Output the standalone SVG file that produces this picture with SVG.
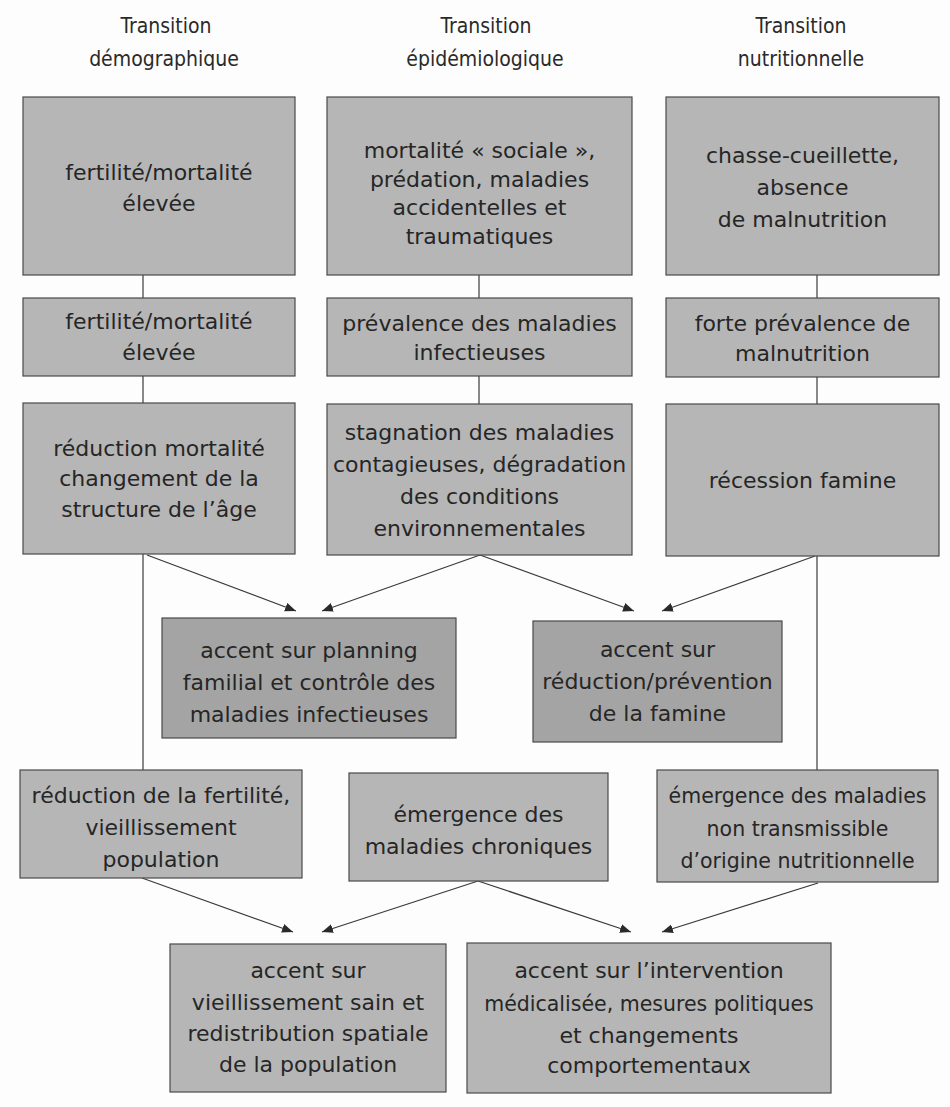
<svg xmlns="http://www.w3.org/2000/svg" width="950" height="1107" viewBox="0 0 950 1107">
<style>
.bg{fill:#fdfdfd}
.box{fill:#b6b6b6;stroke:#4a4a4a;stroke-width:1.2}
.dark{fill:#a4a4a4;stroke:#4a4a4a;stroke-width:1.2}
.t{font-family:"DejaVu Sans","Liberation Sans",sans-serif;font-size:22px;fill:#262626;text-anchor:middle}
.s{font-size:20.5px}
.h{font-family:"DejaVu Sans Condensed","DejaVu Sans",sans-serif;font-stretch:condensed;font-size:21px;fill:#2a2a2a;text-anchor:middle}
.ln{stroke:#3a3a3a;stroke-width:1.2;fill:none}
.ar{stroke:#3a3a3a;stroke-width:1.2;fill:none;marker-end:url(#ah)}
</style>
<defs>
<marker id="ah" markerWidth="12" markerHeight="10" refX="11" refY="4.5" orient="auto" markerUnits="userSpaceOnUse">
<path d="M0,0 L11,4.5 L0,9 z" fill="#2a2a2a"/>
</marker>
</defs>
<rect class="bg" x="0" y="0" width="950" height="1107"/>

<g id="headers">
<text class="h" x="166" y="33">Transition</text>
<text class="h" x="164" y="66">démographique</text>
<text class="h" x="486" y="33">Transition</text>
<text class="h" x="485" y="66">épidémiologique</text>
<text class="h" x="801" y="33">Transition</text>
<text class="h" x="801" y="66">nutritionnelle</text>
</g>

<g id="connectors">
<line class="ln" x1="143" y1="275" x2="143" y2="298"/>
<line class="ln" x1="143" y1="376" x2="143" y2="403"/>
<line class="ln" x1="143" y1="554" x2="143" y2="770"/>
<line class="ln" x1="479" y1="275" x2="479" y2="298"/>
<line class="ln" x1="479" y1="376" x2="479" y2="404"/>
<line class="ln" x1="817" y1="275" x2="817" y2="298"/>
<line class="ln" x1="817" y1="377" x2="817" y2="404"/>
<line class="ln" x1="817" y1="556" x2="817" y2="770"/>
<line class="ar" x1="147" y1="555" x2="296" y2="611"/>
<line class="ar" x1="480" y1="555" x2="322" y2="611"/>
<line class="ar" x1="480" y1="555" x2="634" y2="611"/>
<line class="ar" x1="815" y1="556" x2="662" y2="611"/>
<line class="ar" x1="142" y1="878" x2="293" y2="932"/>
<line class="ar" x1="478" y1="881" x2="322" y2="932"/>
<line class="ar" x1="478" y1="881" x2="631" y2="932"/>
<line class="ar" x1="818" y1="883" x2="662" y2="932"/>
</g>

<g id="a1">
<rect class="box" x="23" y="97" width="272" height="178"/>
<text class="t" x="159" y="180">fertilité/mortalité</text>
<text class="t" x="159" y="211">élevée</text>
</g>
<g id="a2">
<rect class="box" x="23" y="298" width="272" height="78"/>
<text class="t" x="159" y="329">fertilité/mortalité</text>
<text class="t" x="159" y="360">élevée</text>
</g>
<g id="a3">
<rect class="box" x="23" y="403" width="272" height="151"/>
<text class="t" x="159" y="456">réduction mortalité</text>
<text class="t" x="159" y="486">changement de la</text>
<text class="t" x="159" y="517">structure de l’âge</text>
</g>

<g id="b1">
<rect class="box" x="327" y="97" width="305" height="178"/>
<text class="t" x="479.5" y="158">mortalité « sociale »,</text>
<text class="t" x="479.5" y="187">prédation, maladies</text>
<text class="t" x="479.5" y="215">accidentelles et</text>
<text class="t" x="479.5" y="244">traumatiques</text>
</g>
<g id="b2">
<rect class="box" x="327" y="298" width="305" height="78"/>
<text class="t" x="479.5" y="331">prévalence des maladies</text>
<text class="t" x="479.5" y="360">infectieuses</text>
</g>
<g id="b3">
<rect class="box" x="327" y="404" width="305" height="151"/>
<text class="t" x="479.5" y="440">stagnation des maladies</text>
<text class="t" x="479.5" y="472">contagieuses, dégradation</text>
<text class="t" x="479.5" y="504">des conditions</text>
<text class="t" x="479.5" y="536">environnementales</text>
</g>

<g id="c1">
<rect class="box" x="666" y="97" width="273" height="178"/>
<text class="t" x="802.5" y="163">chasse-cueillette,</text>
<text class="t" x="802.5" y="195">absence</text>
<text class="t" x="802.5" y="227">de malnutrition</text>
</g>
<g id="c2">
<rect class="box" x="666" y="298" width="273" height="79"/>
<text class="t" x="802.5" y="331">forte prévalence de</text>
<text class="t" x="802.5" y="361">malnutrition</text>
</g>
<g id="c3">
<rect class="box" x="666" y="404" width="273" height="152"/>
<text class="t" x="802.5" y="488">récession famine</text>
</g>

<g id="m1">
<rect class="dark" x="162" y="618" width="294" height="120"/>
<text class="t" x="309" y="658">accent sur planning</text>
<text class="t" x="309" y="690">familial et contrôle des</text>
<text class="t" x="309" y="722">maladies infectieuses</text>
</g>
<g id="m2">
<rect class="dark" x="533" y="621" width="249" height="121"/>
<text class="t" x="657.5" y="657">accent sur</text>
<text class="t" x="657.5" y="689">réduction/prévention</text>
<text class="t" x="657.5" y="721">de la famine</text>
</g>

<g id="a4">
<rect class="box" x="20" y="770" width="282" height="108"/>
<text class="t" x="161" y="803">réduction de la fertilité,</text>
<text class="t" x="161" y="835">vieillissement</text>
<text class="t" x="161" y="867">population</text>
</g>
<g id="b4">
<rect class="box" x="349" y="773" width="259" height="108"/>
<text class="t" x="478.5" y="822">émergence des</text>
<text class="t" x="478.5" y="854">maladies chroniques</text>
</g>
<g id="c4">
<rect class="box" x="657" y="770" width="281" height="112"/>
<text class="t s" x="797.5" y="803">émergence des maladies</text>
<text class="t s" x="797.5" y="836">non transmissible</text>
<text class="t s" x="797.5" y="868">d’origine nutritionnelle</text>
</g>

<g id="d1">
<rect class="box" x="170" y="944" width="276" height="148"/>
<text class="t" x="308" y="978">accent sur</text>
<text class="t" x="308" y="1010">vieillissement sain et</text>
<text class="t" x="308" y="1041">redistribution spatiale</text>
<text class="t" x="308" y="1072">de la population</text>
</g>
<g id="d2">
<rect class="box" x="467" y="943" width="364" height="150"/>
<text class="t" x="649" y="978">accent sur l’intervention</text>
<text class="t s" x="649" y="1011">médicalisée, mesures politiques</text>
<text class="t" x="649" y="1043">et changements</text>
<text class="t" x="649" y="1073">comportementaux</text>
</g>
</svg>
